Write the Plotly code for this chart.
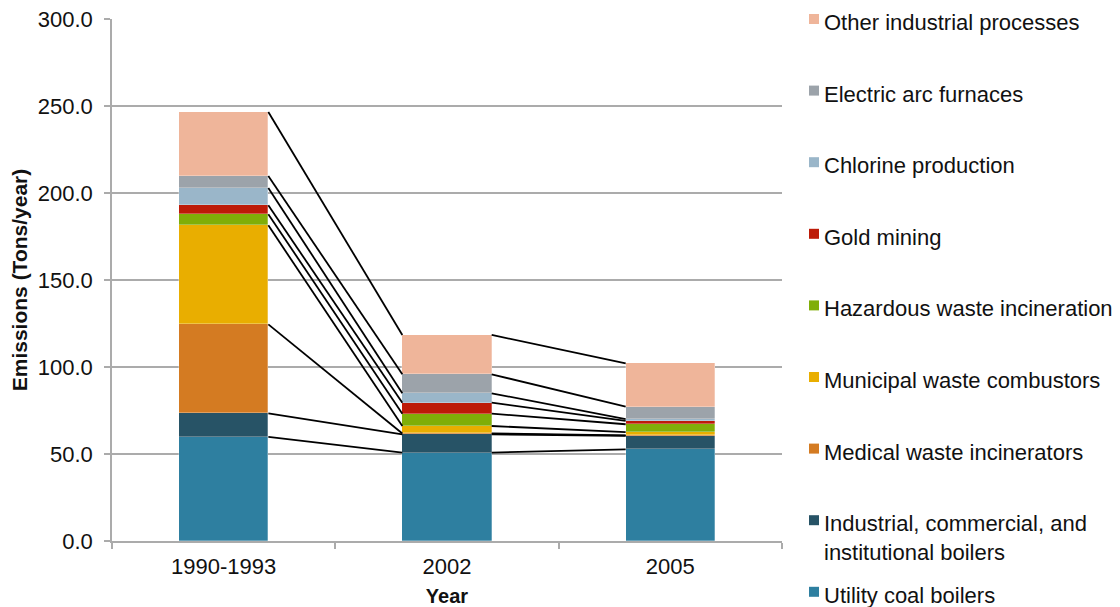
import plotly.graph_objects as go

# Time periods on the x axis
periods = ["1990-1993", "2002", "2005"]

# Mercury emissions by source category (tons/year), listed bottom to top of each stack
utility_coal_boilers = [59.8, 50.8, 52.7]
ici_boilers = [13.6, 10.5, 7.8]
medical_waste_incinerators = [51.1, 0.5, 0.2]
municipal_waste_combustors = [56.9, 4.3, 1.9]
hazardous_waste_incineration = [6.4, 7.1, 4.5]
gold_mining = [5.1, 6.3, 1.9]
chlorine_production = [10.0, 5.4, 1.1]
electric_arc_furnaces = [6.9, 10.9, 7.1]
other_industrial_processes = [36.8, 22.6, 24.9]

series = [
    ("Utility coal boilers", utility_coal_boilers, "#2e7fa0"),
    ("Industrial, commercial, and<br>institutional boilers", ici_boilers, "#275366"),
    ("Medical waste incinerators", medical_waste_incinerators, "#d47b22"),
    ("Municipal waste combustors", municipal_waste_combustors, "#e9ae00"),
    ("Hazardous waste incineration", hazardous_waste_incineration, "#80ae08"),
    ("Gold mining", gold_mining, "#bd1b08"),
    ("Chlorine production", chlorine_production, "#9ab6c9"),
    ("Electric arc furnaces", electric_arc_furnaces, "#9ca3aa"),
    ("Other industrial processes", other_industrial_processes, "#efb59a"),
]

y_ticks = [0, 50, 100, 150, 200, 250, 300]

BAR_WIDTH = 0.4
FONT = "Liberation Sans, Arial, Helvetica, sans-serif"
TEXT = "#111111"
GRID = "#ababab"

# Plot-area geometry in pixels (used to place the side legend)
W, H = 1120, 607
ML, MR, MT, MB = 112, 338, 19, 66
PW, PH = W - ML - MR, H - MT - MB


def xp(px):
    return (px - ML) / PW


def yp(py):
    return (H - MB - py) / PH


fig = go.Figure()
xs = list(range(len(periods)))

for name, vals, color in series:
    fig.add_trace(go.Bar(
        x=xs, y=vals, width=BAR_WIDTH, name=name,
        marker=dict(color=color, line=dict(color="rgba(255,255,255,0.35)", width=0.8)),
        showlegend=False,
    ))

# Series lines joining the top of each segment between neighbouring bars
cum = [0.0] * len(periods)
lx, ly = [], []
for name, vals, color in series:
    cum = [c + v for c, v in zip(cum, vals)]
    for k in range(len(periods) - 1):
        lx += [xs[k] + BAR_WIDTH / 2, xs[k + 1] - BAR_WIDTH / 2, None]
        ly += [cum[k], cum[k + 1], None]
fig.add_trace(go.Scatter(
    x=lx, y=ly, mode="lines", line=dict(color="black", width=1.8),
    hoverinfo="skip", showlegend=False,
))

# Side legend: square swatch plus label, top entry first
legend_items = list(reversed(series))
first_center, step = 19, 71.6
shapes = []
annotations = []
for i, (name, vals, color) in enumerate(legend_items):
    cy = first_center + i * step
    shapes.append(dict(
        type="rect", xref="paper", yref="paper",
        x0=xp(809), x1=xp(819), y0=yp(cy + 5), y1=yp(cy - 5),
        fillcolor=color, line=dict(width=0),
    ))
    annotations.append(dict(
        xref="paper", yref="paper", x=xp(822), y=yp(cy - 11),
        xanchor="left", yanchor="top", align="left",
        text=name, showarrow=False,
        font=dict(family=FONT, size=22, color=TEXT),
    ))

fig.update_layout(
    width=W, height=H,
    margin=dict(l=ML, r=MR, t=MT, b=MB, autoexpand=False),
    paper_bgcolor="white", plot_bgcolor="white",
    barmode="stack", bargap=0,
    font=dict(family=FONT, size=22, color=TEXT),
    shapes=shapes, annotations=annotations,
    xaxis=dict(
        range=[-0.5, 2.5], tickvals=xs, ticktext=periods,
        ticks="", showgrid=False, zeroline=False,
        showline=True, linecolor=GRID, linewidth=1.5,
        ticklabelstandoff=5,
        minor=dict(tickvals=[-0.5, 0.5, 1.5, 2.5], ticks="outside",
                   ticklen=6, tickwidth=1.5, tickcolor=GRID, showgrid=False),
        title=dict(text="<b>Year</b>", standoff=16,
                   font=dict(family=FONT, size=20, color=TEXT)),
        tickfont=dict(family=FONT, size=22, color=TEXT),
    ),
    yaxis=dict(
        range=[0, 300], tickvals=y_ticks, tickformat=".1f",
        showgrid=True, gridcolor=GRID, gridwidth=1.5, zeroline=False,
        showline=True, linecolor=GRID, linewidth=1.5,
        ticks="outside", ticklen=6, tickwidth=1.5, tickcolor=GRID,
        ticklabelstandoff=7,
        title=dict(text="<b>Emissions (Tons/year)</b>", standoff=4,
                   font=dict(family=FONT, size=21, color=TEXT)),
        tickfont=dict(family=FONT, size=22, color=TEXT),
    ),
)

fig.write_html("out.html")
